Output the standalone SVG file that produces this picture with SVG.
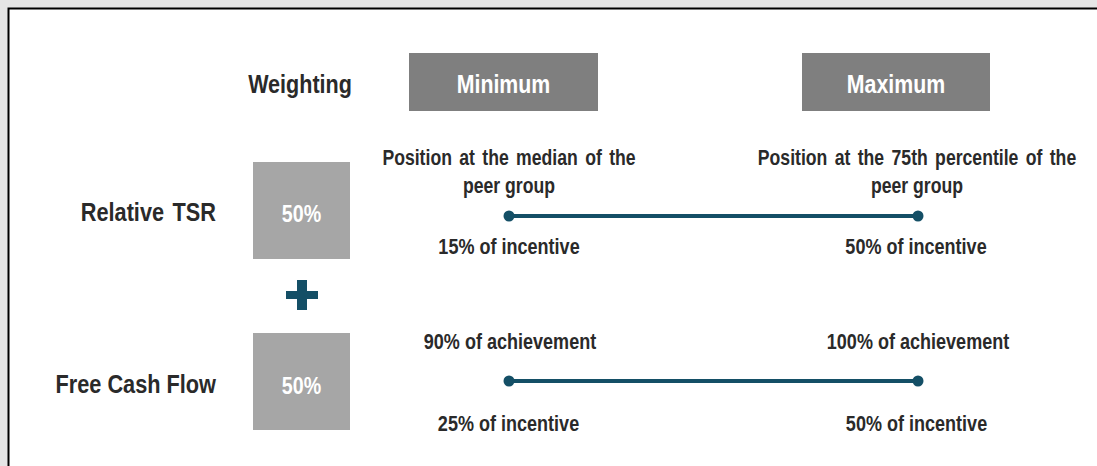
<svg xmlns="http://www.w3.org/2000/svg" width="1097" height="466" viewBox="0 0 1097 466">
<style>
.t{font-family:"Liberation Sans",Arial,sans-serif;font-weight:bold;fill:#2a2a2a}
.w{fill:#ffffff}
.hdr{fill:#7f7f7f}
.wt{fill:#a6a6a6}
.ln{stroke:#144f66;stroke-width:4;fill:none}
.dot{fill:#144f66}
</style>
<rect x="0" y="0" width="1097" height="466" fill="#e6e6e6"/>
<rect x="8" y="8" width="1089" height="458" fill="#ffffff"/>
<path d="M8.5 466 V8.5 H1097" stroke="#000" stroke-width="2" fill="none"/>

<g id="weighting-label"><text class="t" transform="translate(300,93) scale(0.82,1)" font-size="26.3" text-anchor="middle">Weighting</text></g>
<g id="minimum"><rect class="hdr" x="409" y="53" width="189" height="58"/><text class="t w" transform="translate(503.5,93) scale(0.82,1)" font-size="26" text-anchor="middle">Minimum</text></g>
<g id="maximum"><rect class="hdr" x="802" y="53" width="188" height="58"/><text class="t w" transform="translate(896,93) scale(0.82,1)" font-size="26" text-anchor="middle">Maximum</text></g>

<g id="relative-tsr"><text class="t" transform="translate(216,221) scale(0.82,1)" font-size="26.5" text-anchor="end" word-spacing="3">Relative TSR</text></g>
<g id="tsr-weight"><rect class="wt" x="253" y="162" width="97" height="97"/><text class="t w" transform="translate(301.5,221.5) scale(0.82,1)" font-size="24" text-anchor="middle">50%</text></g>

<g id="plus"><path class="dot" d="M297 280 H307 V291 H318 V299 H307 V310 H297 V299 H286 V291 H297 Z"/></g>

<g id="fcf"><text class="t" transform="translate(216,393) scale(0.82,1)" font-size="26.5" text-anchor="end">Free Cash Flow</text></g>
<g id="fcf-weight"><rect class="wt" x="253" y="333" width="97" height="97"/><text class="t w" transform="translate(301.5,393.5) scale(0.82,1)" font-size="24" text-anchor="middle">50%</text></g>

<g id="tsr-min">
<text class="t" transform="translate(509,165) scale(0.82,1)" font-size="21.5" text-anchor="middle" word-spacing="3">Position at the median of the</text>
<text class="t" transform="translate(509,193) scale(0.82,1)" font-size="21.5" text-anchor="middle">peer group</text>
<text class="t" transform="translate(509,254) scale(0.82,1)" font-size="22" text-anchor="middle">15% of incentive</text>
</g>
<g id="tsr-max">
<text class="t" transform="translate(917,165) scale(0.82,1)" font-size="21.5" text-anchor="middle" word-spacing="3">Position at the 75th percentile of the</text>
<text class="t" transform="translate(917,193) scale(0.82,1)" font-size="21.5" text-anchor="middle">peer group</text>
<text class="t" transform="translate(916,254) scale(0.82,1)" font-size="22" text-anchor="middle">50% of incentive</text>
</g>
<g id="fcf-min">
<text class="t" transform="translate(510,349) scale(0.82,1)" font-size="22" text-anchor="middle">90% of achievement</text>
<text class="t" transform="translate(508.5,431) scale(0.82,1)" font-size="22" text-anchor="middle">25% of incentive</text>
</g>
<g id="fcf-max">
<text class="t" transform="translate(918,349) scale(0.82,1)" font-size="22" text-anchor="middle">100% of achievement</text>
<text class="t" transform="translate(916.5,431) scale(0.82,1)" font-size="22" text-anchor="middle">50% of incentive</text>
</g>

<g id="connectors">
<line class="ln" x1="509" y1="216" x2="918" y2="216"/>
<circle class="dot" cx="509" cy="216" r="5.5"/>
<circle class="dot" cx="918" cy="216" r="5.5"/>
<line class="ln" x1="509" y1="381" x2="918" y2="381"/>
<circle class="dot" cx="509" cy="381" r="5.5"/>
<circle class="dot" cx="918" cy="381" r="5.5"/>
</g>
</svg>
